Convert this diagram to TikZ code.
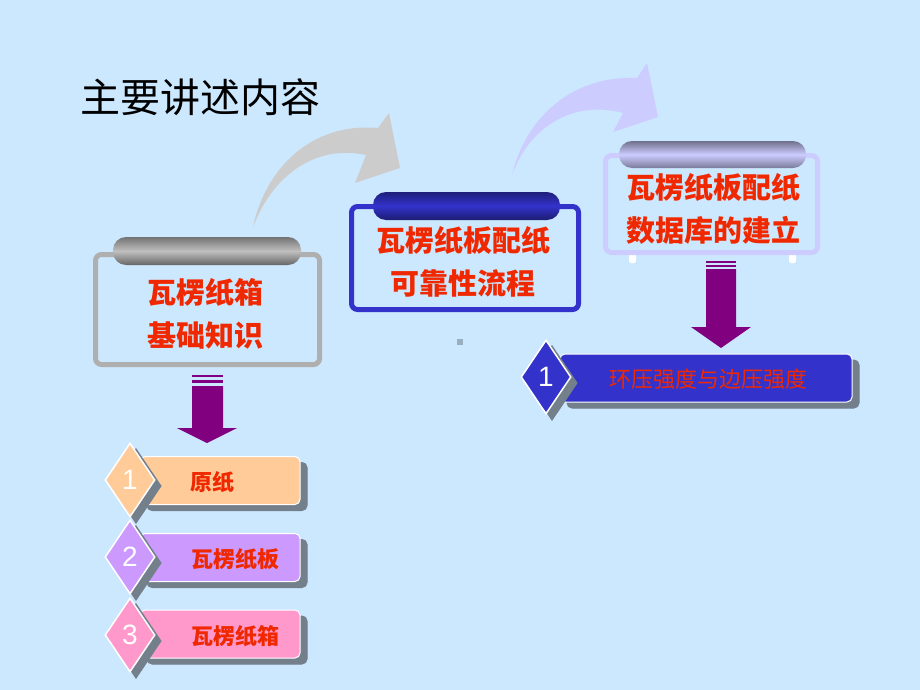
\documentclass[tikz,border=0pt]{standalone}
\usepackage{fontspec}
\setsansfont{Liberation Sans}
\newfontfamily\cjk{Noto Sans CJK SC}
\usetikzlibrary{shapes.geometric,shadows}

\definecolor{bgblue}{RGB}{204,232,255}
\definecolor{txtred}{RGB}{240,40,0}
\definecolor{grayframe}{RGB}{175,175,175}
\definecolor{blueframe}{RGB}{51,51,204}
\definecolor{lavframe}{RGB}{204,204,255}
\definecolor{arrowpurple}{RGB}{128,0,128}
\definecolor{peach}{RGB}{255,204,153}
\definecolor{lilac}{RGB}{204,153,255}
\definecolor{rose}{RGB}{255,153,204}
\definecolor{shadowgray}{RGB}{115,128,140}

\tikzset{
  frame/.style={draw=#1, line width=5pt, rounded corners=6pt, inner sep=0pt},
  pill/.style={rounded corners=13pt, inner sep=0pt, minimum height=28pt},
  boxtext/.style={text=txtred, align=center, inner sep=0pt,
    font=\cjk\bfseries\fontsize{29}{43}\selectfont},
  item/.style={rounded corners=5pt, draw=white, line width=1pt, inner sep=0pt,
    minimum height=48pt,
    copy shadow={shadow xshift=7pt, shadow yshift=-6pt, fill=shadowgray, draw=shadowgray}},
  itemtext/.style={text=txtred, inner sep=0pt, font=\cjk\bfseries\fontsize{22}{26}\selectfont},
  diam/.style={diamond, draw=white, line width=1.5pt, inner sep=0pt,
    minimum width=50pt, minimum height=74pt, text=white,
    font=\sffamily\fontsize{28}{30}\selectfont,
    copy shadow={shadow xshift=6pt, shadow yshift=-6pt, fill=shadowgray, draw=shadowgray}},
}

\begin{document}
\begin{tikzpicture}[x=1pt,y=-1pt]

        % background
        \fill[bgblue] (0,0) rectangle (920,690);
        \useasboundingbox (0,0) rectangle (920,690);

        \node[anchor=west, inner sep=0pt, font=\cjk\fontsize{40}{44}\selectfont] (title) at (80,97) {主要讲述内容};

        % curved arrows
        \fill[black!20] (253,227) .. controls (265,170) and (310,122) .. (378,128)
          -- (389,113) -- (400,168) -- (355,183) -- (366,155)
          .. controls (320,145) and (275,170) .. (253,227);
        \fill[lavframe] (512,175) .. controls (525,120) and (570,75) .. (637,78)
          -- (647,63) -- (658,117) -- (613,132) -- (623,113)
          .. controls (575,100) and (530,125) .. (512,175);

        % three frames
        \begin{scope}
          \node[frame=grayframe, minimum width=224pt, minimum height=110pt] (box1) at (207.5,309.5) {};
          \node[frame=blueframe, minimum width=227pt, minimum height=103pt] (box2) at (465,258) {};
          \fill[white, rounded corners=2pt] (629,250) rectangle (636,263);
          \fill[white, rounded corners=2pt] (789,250) rectangle (796,263);
          \node[frame=lavframe, minimum width=212pt, minimum height=97pt] (box3) at (711.5,204) {};

          \node[pill, minimum width=188pt, top color=black!55, bottom color=black!60, middle color=black!25] (pill1) at (207,251) {};
          \node[pill, minimum width=187pt, top color=blueframe!60!black, bottom color=blueframe!55!black, middle color=blueframe] (pill2) at (466.5,206) {};
          \node[pill, minimum width=187pt, minimum height=27pt, top color=lavframe!55!black, bottom color=lavframe!60!black, middle color=lavframe] (pill3) at (712.5,154.5) {};
        \end{scope}

        \node[boxtext] (text1) at (205,314) {瓦楞纸箱\\基础知识};
        \node[boxtext] (text2) at (463,262) {瓦楞纸板配纸\\可靠性流程};
        \node[boxtext] (text3) at (713,209) {瓦楞纸板配纸\\数据库的建立};

        \fill[black!25!bgblue] (457,339) rectangle (463,345);

        % purple arrows
        \begin{scope}[arrowpurple]
          \fill (192,375.3) rectangle (223,377.3);
          \fill (192,380) rectangle (223,383.3);
          \fill (192,386) -- (223,386) -- (223,428) -- (237,428) -- (207,443)
            -- (177,428) -- (192,428) -- cycle;
          \fill (706,261) rectangle (736,263);
          \fill (706,265) rectangle (736,267);
          \fill (706,269) -- (736,269) -- (736,327) -- (751,327) -- (721,348)
            -- (691,327) -- (706,327) -- cycle;
        \end{scope}

        % items
        \node[item, fill=blueframe, minimum width=292pt] (bar0) at (706,378) {};
        \node[diam, fill=blueframe] (d0) at (546,377) {1};
        \node[itemtext, font=\cjk\mdseries\fontsize{22}{26}\selectfont] (t0) at (708,379) {环压强度与边压强度};

        \node[item, fill=peach, minimum width=160pt] (bar1) at (220,480.5) {};
        \node[item, fill=lilac, minimum width=160pt] (bar2) at (220,557.5) {};
        \node[item, fill=rose, minimum width=160pt] (bar3) at (220,634) {};
        \node[diam, fill=peach] (d1) at (130,480) {1};
        \node[diam, fill=lilac] (d2) at (130,557) {2};
        \node[diam, fill=rose] (d3) at (130,635) {3};
        \node[itemtext, anchor=west] (t1) at (190,482) {原纸};
        \node[itemtext, anchor=west] (t2) at (191,559) {瓦楞纸板};
        \node[itemtext, anchor=west] (t3) at (191,636) {瓦楞纸箱};

      \end{tikzpicture}
\end{document}
